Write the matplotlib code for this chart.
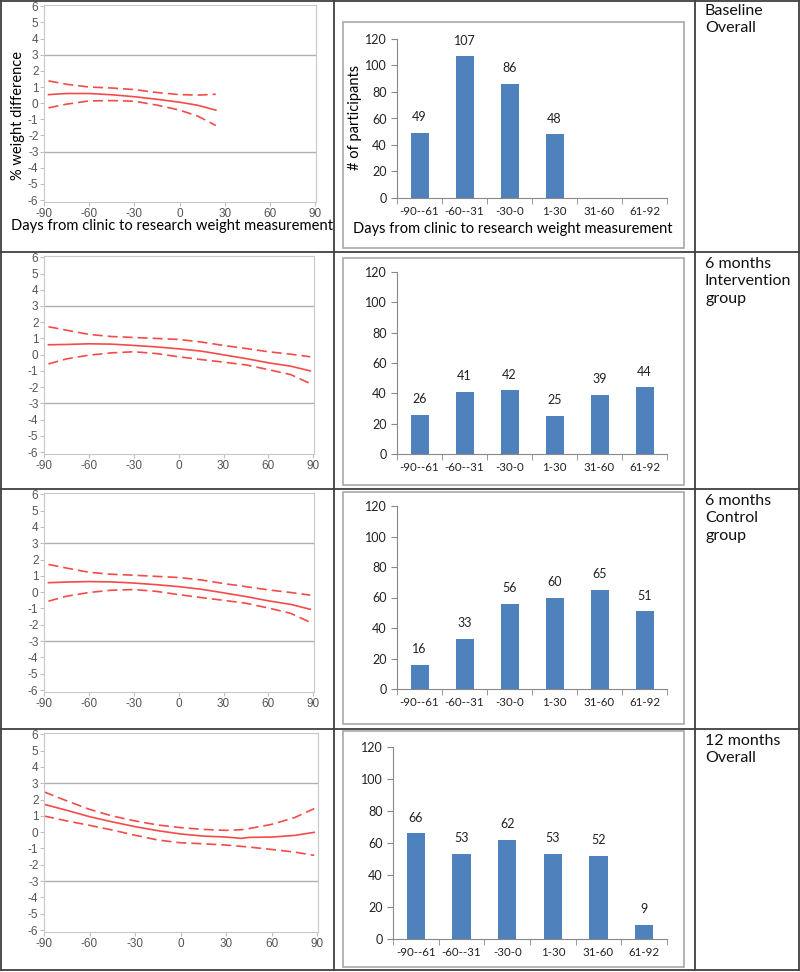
import matplotlib.pyplot as plt
from matplotlib.lines import Line2D
from matplotlib.patches import Rectangle

plt.rcParams['axes.unicode_minus'] = False

W, H = 800, 972

# ---- line plot data (% weight difference vs days) ----
base_days = [-87, -75, -60, -45, -30, -15, 0, 12, 24]
base_fit = [0.53, 0.6, 0.6, 0.52, 0.4, 0.24, 0.06, -0.13, -0.43]
base_hi = [1.38, 1.17, 1.0, 0.94, 0.84, 0.66, 0.53, 0.5, 0.55]
base_lo = [-0.29, -0.06, 0.14, 0.16, 0.12, -0.12, -0.43, -0.8, -1.38]

m6_days = [-87, -75, -60, -45, -30, -15, 0, 15, 30, 45, 60, 75, 88]
int_fit = [0.61, 0.63, 0.67, 0.65, 0.57, 0.48, 0.36, 0.22, -0.01, -0.24, -0.5, -0.71, -1.0]
int_hi = [1.72, 1.51, 1.25, 1.12, 1.06, 1.0, 0.94, 0.78, 0.57, 0.38, 0.18, 0.03, -0.13]
int_lo = [-0.57, -0.26, -0.03, 0.11, 0.18, 0.07, -0.13, -0.3, -0.46, -0.63, -0.92, -1.23, -1.78]

ctl_fit = [0.58, 0.62, 0.65, 0.63, 0.56, 0.46, 0.34, 0.18, -0.04, -0.27, -0.53, -0.75, -1.05]
ctl_hi = [1.7, 1.48, 1.22, 1.1, 1.04, 0.97, 0.9, 0.75, 0.53, 0.34, 0.14, -0.02, -0.18]
ctl_lo = [-0.55, -0.25, -0.02, 0.12, 0.16, 0.05, -0.15, -0.33, -0.5, -0.68, -0.97, -1.3, -1.85]

m12_days = [-90, -75, -60, -45, -30, -15, 0, 15, 30, 40, 45, 60, 75, 88]
m12_fit = [1.71, 1.34, 0.95, 0.63, 0.34, 0.09, -0.11, -0.24, -0.3, -0.38, -0.32, -0.3, -0.2, -0.01]
m12_hi = [2.47, 1.92, 1.4, 0.99, 0.69, 0.44, 0.28, 0.17, 0.11, 0.15, 0.22, 0.48, 0.89, 1.44]
m12_lo = [0.99, 0.69, 0.42, 0.13, -0.19, -0.48, -0.65, -0.71, -0.79, -0.87, -0.91, -1.06, -1.22, -1.42]

# ---- bar chart data ----
bins = ['-90--61', '-60--31', '-30-0', '1-30', '31-60', '61-92']
n_base = [49, 107, 86, 48, 0, 0]
n_int = [26, 41, 42, 25, 39, 44]
n_ctl = [16, 33, 56, 60, 65, 51]
n_12m = [66, 53, 62, 53, 52, 9]

row_names = ['Baseline\nOverall', '6 months\nIntervention\ngroup',
             '6 months\nControl\ngroup', '12 months\nOverall']

TXT = 'Lato'
RED = '#f54a4a'
BLUE = '#4f81bd'
XLAB = 'Days from clinic to research weight measurement'


def box(x0, y0, x1, y1):
    # pixel box (top-left origin) -> figure fraction rect
    return [x0 / W, 1 - y1 / H, (x1 - x0) / W, (y1 - y0) / H]


fig = plt.figure(figsize=(8, 9.72), dpi=100)

# table grid
for x in [1, 334, 695, 799]:
    fig.add_artist(Line2D([x / W, x / W], [1 - 1 / H, 1 - 970 / H],
                          color='#404040', lw=1.3, transform=fig.transFigure))
for y in [1, 252, 489, 729, 970]:
    fig.add_artist(Line2D([1 / W, 799 / W], [1 - y / H, 1 - y / H],
                          color='#404040', lw=1.3, transform=fig.transFigure))

line_boxes = [(44, 5, 316, 202), (44, 256, 314, 454), (44, 493, 314, 692), (44, 733, 318, 932)]
line_data = [(base_days, base_fit, base_hi, base_lo),
             (m6_days, int_fit, int_hi, int_lo),
             (m6_days, ctl_fit, ctl_hi, ctl_lo),
             (m12_days, m12_fit, m12_hi, m12_lo)]

for i, (bx, (d, fit, hi, lo)) in enumerate(zip(line_boxes, line_data)):
    ax = fig.add_axes(box(*bx))
    ax.plot(d, fit, color=RED, lw=1.2)
    ax.plot(d, hi, color=RED, lw=1.2, dashes=(6, 3))
    ax.plot(d, lo, color=RED, lw=1.2, dashes=(6, 3))
    ax.axhline(3, color='#b0b0b0', lw=1)
    ax.axhline(-3, color='#b0b0b0', lw=1)
    ax.set_xlim(-90, 90.5)
    ax.set_ylim(-6.12, 6.08)
    ax.set_xticks(range(-90, 91, 30))
    ax.set_yticks(range(-6, 7))
    for s in ax.spines.values():
        s.set_color('#c8c8c8')
    ax.tick_params(colors='#c0c0c0', labelcolor='#555555', length=3, width=0.8,
                   labelsize=8.5, pad=1)
    for lab in ax.get_xticklabels() + ax.get_yticklabels():
        lab.set_family('Liberation Sans')
    if i == 0:
        fig.text(18 / W, 1 - 115 / H, '% weight difference', rotation=90,
                 ha='center', va='center', fontsize=10.5, family=TXT)
        fig.text(172 / W, 1 - 226 / H, XLAB, ha='center', va='center',
                 fontsize=10.6, family=TXT)

frames = [(343, 22, 684, 248), (343, 258, 684, 485), (343, 492, 684, 724), (343, 731, 684, 967)]
bar_boxes = [(397, 39, 667, 198), (397, 272, 667, 454), (397, 506, 667, 689), (393, 747, 667, 939)]
counts = [n_base, n_int, n_ctl, n_12m]

for i, (fr, bx, n) in enumerate(zip(frames, bar_boxes, counts)):
    fig.add_artist(Rectangle((fr[0] / W, 1 - fr[3] / H), (fr[2] - fr[0]) / W,
                             (fr[3] - fr[1]) / H, transform=fig.transFigure,
                             fill=False, edgecolor='#a8a8a8', lw=1.2))
    ax = fig.add_axes(box(*bx))
    pos = range(len(bins))
    ax.bar(pos, n, width=0.4, color=BLUE)
    for p, v in zip(pos, n):
        if v > 0:
            ax.annotate(str(v), (p, v), xytext=(0, 7), textcoords='offset points',
                        ha='center', va='bottom', fontsize=9, family=TXT, color='#222222')
    ax.set_xlim(-0.5, 5.5)
    ax.set_ylim(0, 120)
    ax.set_yticks(range(0, 121, 20))
    ax.set_xticks(list(pos))
    ax.set_xticklabels(bins)
    ax.set_xticks([p - 0.5 for p in range(len(bins) + 1)], minor=True)
    ax.tick_params(axis='x', which='major', length=0, pad=6, labelsize=8.3)
    ax.tick_params(axis='x', which='minor', length=4, color='#888888')
    ax.tick_params(axis='y', length=4, color='#888888', labelsize=9)
    ax.tick_params(labelcolor='#222222')
    for lab in ax.get_xticklabels() + ax.get_yticklabels():
        lab.set_family(TXT)
    for side in ['top', 'right']:
        ax.spines[side].set_visible(False)
    for side in ['left', 'bottom']:
        ax.spines[side].set_color('#888888')
    if i == 0:
        fig.text(355 / W, 1 - 117 / H, '# of participants', rotation=90,
                 ha='center', va='center', fontsize=10.5, family=TXT)
        fig.text(513 / W, 1 - 229 / H, XLAB, ha='center', va='center',
                 fontsize=10.5, family=TXT)

for y, name in zip([4, 257, 494, 734], row_names):
    fig.text(705 / W, 1 - y / H, name, ha='left', va='top', fontsize=11.5,
             family=TXT, linespacing=1.3, color='#111111')

fig.savefig('out.png', dpi=100)
